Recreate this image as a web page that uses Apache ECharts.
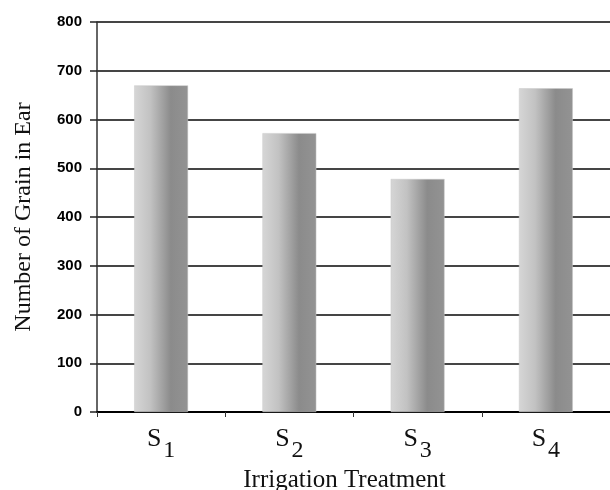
<!DOCTYPE html>
<html>
<head>
<meta charset="utf-8">
<script src="https://cdn.jsdelivr.net/npm/echarts@6/dist/echarts.min.js"></script>
<style>
  html, body { margin: 0; padding: 0; background: #fff; }
  #chart { width: 610px; height: 490px; }
</style>
</head>
<body>
<div id="chart"></div>
<script>
// Irrigation treatments and mean grain count per ear
const treatments = ['1', '2', '3', '4'];
const grainCounts = [670, 572, 478, 664];
const yTicks = [0, 100, 200, 300, 400, 500, 600, 700, 800];

const chart = echarts.init(document.getElementById('chart'), null, { renderer: 'canvas' });

const barGradient = new echarts.graphic.LinearGradient(0, 0, 1, 0, [
  { offset: 0, color: '#d6d6d6' },
  { offset: 0.3, color: '#c2c2c2' },
  { offset: 0.68, color: '#8b8b8b' },
  { offset: 1, color: '#939393' }
]);

chart.setOption({
  animation: false,
  grid: { left: 97, right: 0, top: 22, bottom: 78, containLabel: false, outerBoundsMode: 'none' },
  xAxis: {
    type: 'category',
    data: treatments,
    name: 'Irrigation Treatment',
    nameLocation: 'middle',
    nameGap: 56,
    nameMoveOverlap: false,
    nameTextStyle: {
      fontFamily: 'Liberation Serif', fontSize: 25, color: '#111',
      padding: [0, 18, 0, 0]
    },
    axisLine: { lineStyle: { color: '#000', width: 2 } },
    axisTick: { show: true, alignWithLabel: false, length: 5, lineStyle: { color: '#333', width: 1 } },
    axisLabel: {
      margin: 10,
      formatter: v => '{s|S}{sub|' + v + '}',
      rich: {
        s: { fontFamily: 'Liberation Serif', fontSize: 26, color: '#111', verticalAlign: 'bottom', lineHeight: 30 },
        sub: { fontFamily: 'Liberation Serif', fontSize: 24, color: '#111', verticalAlign: 'bottom', padding: [0, 0, -11, 2], lineHeight: 30 }
      }
    }
  },
  yAxis: {
    type: 'value',
    min: yTicks[0],
    max: yTicks[yTicks.length - 1],
    interval: 100,
    name: 'Number of Grain in Ear',
    nameLocation: 'middle',
    nameGap: 61,
    nameMoveOverlap: false,
    nameTextStyle: { fontFamily: 'Liberation Serif', fontSize: 24, color: '#111' },
    axisLine: { show: true, lineStyle: { color: '#333', width: 1.5 } },
    axisTick: { show: true, length: 7, lineStyle: { color: '#222', width: 1.5 } },
    axisLabel: {
      margin: 15,
      fontFamily: 'Liberation Sans',
      fontWeight: 'bold',
      fontSize: 15,
      color: '#000'
    },
    splitLine: { show: true, lineStyle: { color: '#454545', width: 2 } }
  },
  series: [{
    type: 'bar',
    data: grainCounts,
    barWidth: '42%',
    itemStyle: { color: barGradient, borderColor: '#c8c8c8', borderWidth: 0.5 }
  }]
});
</script>
</body>
</html>
